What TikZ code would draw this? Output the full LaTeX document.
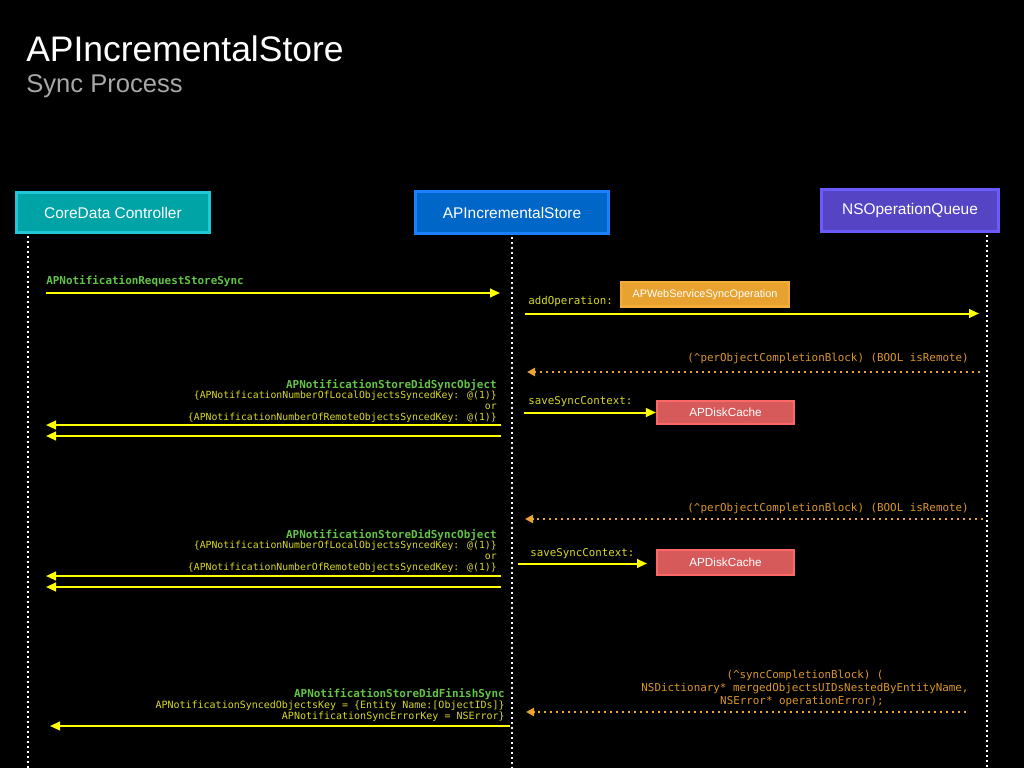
\documentclass[tikz,border=0pt]{standalone}
\usepackage{fontspec}
\setmainfont{Liberation Sans}
\newfontfamily\monofont{DejaVu Sans Mono}
\usetikzlibrary{arrows.meta}
\definecolor{tealfill}{RGB}{0,163,166}
\definecolor{tealedge}{RGB}{30,200,214}
\definecolor{bluefill}{RGB}{0,102,200}
\definecolor{blueedge}{RGB}{26,128,255}
\definecolor{purpfill}{RGB}{85,68,196}
\definecolor{purpedge}{RGB}{107,91,255}
\definecolor{opfill}{RGB}{232,162,48}
\definecolor{opedge}{RGB}{245,173,58}
\definecolor{diskfill}{RGB}{214,90,90}
\definecolor{diskedge}{RGB}{255,102,102}
\definecolor{lblgreen}{RGB}{98,196,70}
\definecolor{lblyellow}{RGB}{216,216,40}
\definecolor{arryellow}{RGB}{255,255,0}
\definecolor{lblorange}{RGB}{218,150,42}
\definecolor{arrorange}{RGB}{235,165,50}
\definecolor{subgray}{RGB}{168,168,168}
\begin{document}
\begin{tikzpicture}[x=0.75pt,y=-0.75pt,
  actor/.style={draw, line width=2.25pt, text=white, inner sep=0pt,
    font=\fontsize{11.6pt}{13pt}\selectfont},
  objbox/.style={draw, line width=1.6pt, text=white, inner sep=0pt},
  lifeline/.style={white, line width=1.5pt, dash pattern=on 1.5pt off 2.25pt},
  msg/.style={arryellow, line width=1.5pt, -{Triangle[length=7.5pt,width=6.5pt]}},
  ret/.style={arrorange, line width=1.6pt, dash pattern=on 1.6pt off 2.9pt,
    -{Triangle[length=6pt,width=6pt]}},
  gl/.style={inner sep=0pt, text=lblgreen, font=\monofont\bfseries\fontsize{8.2pt}{10pt}\selectfont},
  yl/.style={inner sep=0pt, text=lblyellow, font=\monofont\fontsize{7.35pt}{9pt}\selectfont},
  ym/.style={inner sep=0pt, text=lblyellow, font=\monofont\fontsize{8.1pt}{10pt}\selectfont},
  ol/.style={inner sep=0pt, text=lblorange, font=\monofont\fontsize{8.15pt}{10pt}\selectfont},
]
\fill[black] (0,0) rectangle (1024,768);
\useasboundingbox (0,0) rectangle (1024,768);

% titles
\node[anchor=base west, inner sep=0pt, text=white, font=\fontsize{26.6pt}{30pt}\selectfont] (title) at (26,61) {APIncrementalStore};
\node[anchor=base west, inner sep=0pt, text=subgray, font=\fontsize{19.2pt}{22pt}\selectfont] (subtitle) at (26,92) {Sync Process};

% actors
\node[actor, fill=tealfill, draw=tealedge, minimum width=144.75pt, minimum height=30pt] (core) at (113,212.5) {CoreData Controller};
\node[actor, fill=bluefill, draw=blueedge, minimum width=144.75pt, minimum height=31.5pt] (store) at (512,212.5) {APIncrementalStore};
\node[actor, fill=purpfill, draw=purpedge, minimum width=132.75pt, minimum height=31.5pt] (queue) at (910,210.5) {NSOperationQueue};

% lifelines
\coordinate (coretop) at (28,236);
\coordinate (corebot) at (28,768);
\coordinate (storetop) at (512,237);
\coordinate (storebot) at (512,768);
\coordinate (queuetop) at (987,235);
\coordinate (queuebot) at (987,768);
\draw[lifeline] (coretop) -- (corebot);
\draw[lifeline] (storetop) -- (storebot);
\draw[lifeline] (queuetop) -- (queuebot);

% message 1
\node[gl, anchor=base west] (m1) at (46,284) {APNotificationRequestStoreSync};
\coordinate (m1a) at (46,293);
\coordinate (m1b) at (500,293);
\draw[msg] (m1a) -- (m1b);

% message 2
\node[ym, anchor=base west] (m2) at (528,304) {addOperation:};
\node[objbox, fill=opfill, draw=opedge, minimum width=126pt, minimum height=18.3pt,
  font=\fontsize{8.15pt}{10pt}\selectfont] (op) at (705,294.3) {APWebServiceSyncOperation};
\coordinate (m2a) at (525,313.5);
\coordinate (m2b) at (979,313.5);
\draw[msg] (m2a) -- (m2b);

% return 1
\node[ol, anchor=base east] (r1) at (969,361) {(\textasciicircum perObjectCompletionBlock) (BOOL isRemote)};
\coordinate (r1a) at (980,372);
\coordinate (r1b) at (527,372);
\draw[ret] (r1a) -- (r1b);

% notify 1
\node[gl, anchor=base east] (n1a) at (497,388) {APNotificationStoreDidSyncObject};
\node[yl, anchor=base east] (n1b) at (497,398.5) {\{APNotificationNumberOfLocalObjectsSyncedKey: @(1)\}};
\node[yl, anchor=base east] (n1c) at (497,409.5) {or};
\node[yl, anchor=base east] (n1d) at (497,420) {\{APNotificationNumberOfRemoteObjectsSyncedKey: @(1)\}};
\coordinate (n1p) at (501,425);
\coordinate (n1q) at (46,425);
\coordinate (n1r) at (501,436);
\coordinate (n1s) at (46,436);
\draw[msg] (n1p) -- (n1q);
\draw[msg] (n1r) -- (n1s);

% save 1
\node[ym, anchor=base west] (s1) at (528,404) {saveSyncContext:};
\node[objbox, fill=diskfill, draw=diskedge, minimum width=102.75pt, minimum height=17.5pt,
  font=\fontsize{8.8pt}{10pt}\selectfont] (disk1) at (725.5,412.5) {APDiskCache};
\coordinate (s1a) at (524,412.5);
\draw[msg] (s1a) -- (disk1.west);

% return 2
\node[ol, anchor=base east] (r2) at (969,511) {(\textasciicircum perObjectCompletionBlock) (BOOL isRemote)};
\coordinate (r2a) at (983,519);
\coordinate (r2b) at (525,519);
\draw[ret] (r2a) -- (r2b);

% notify 2
\node[gl, anchor=base east] (n2a) at (497,538) {APNotificationStoreDidSyncObject};
\node[yl, anchor=base east] (n2b) at (497,548.5) {\{APNotificationNumberOfLocalObjectsSyncedKey: @(1)\}};
\node[yl, anchor=base east] (n2c) at (497,559.5) {or};
\node[yl, anchor=base east] (n2d) at (497,570) {\{APNotificationNumberOfRemoteObjectsSyncedKey: @(1)\}};
\coordinate (n2p) at (501,576);
\coordinate (n2q) at (46,576);
\coordinate (n2r) at (501,587);
\coordinate (n2s) at (46,587);
\draw[msg] (n2p) -- (n2q);
\draw[msg] (n2r) -- (n2s);

% save 2
\node[ym, anchor=base west] (s2) at (530,556) {saveSyncContext:};
\node[objbox, fill=diskfill, draw=diskedge, minimum width=102.75pt, minimum height=18.75pt,
  font=\fontsize{8.8pt}{10pt}\selectfont] (disk2) at (725.5,562.5) {APDiskCache};
\coordinate (s2a) at (518,563.5);
\coordinate (s2b) at (647,563.5);
\draw[msg] (s2a) -- (s2b);

% final return
\node[ol, anchor=base] (f1) at (805,678) {(\textasciicircum syncCompletionBlock) (};
\node[ol, anchor=base] (f2) at (805,691) {NSDictionary* mergedObjectsUIDsNestedByEntityName,};
\node[ol, anchor=base] (f3) at (802,704) {NSError* operationError);};
\coordinate (fa) at (966,712);
\coordinate (fb) at (526,712);
\draw[ret] (fa) -- (fb);

% finish notify
\node[gl, anchor=base east] (e1) at (505,697) {APNotificationStoreDidFinishSync};
\node[yl, font=\monofont\fontsize{7.5pt}{9pt}\selectfont, anchor=base east] (e2) at (505,708) {APNotificationSyncedObjectsKey = \{Entity Name:[ObjectIDs]\}};
\node[yl, font=\monofont\fontsize{7.5pt}{9pt}\selectfont, anchor=base east] (e3) at (505,719) {APNotificationSyncErrorKey = NSError\}};
\coordinate (ea) at (510,726);
\coordinate (eb) at (50,726);
\draw[msg] (ea) -- (eb);
\end{tikzpicture}
\end{document}
